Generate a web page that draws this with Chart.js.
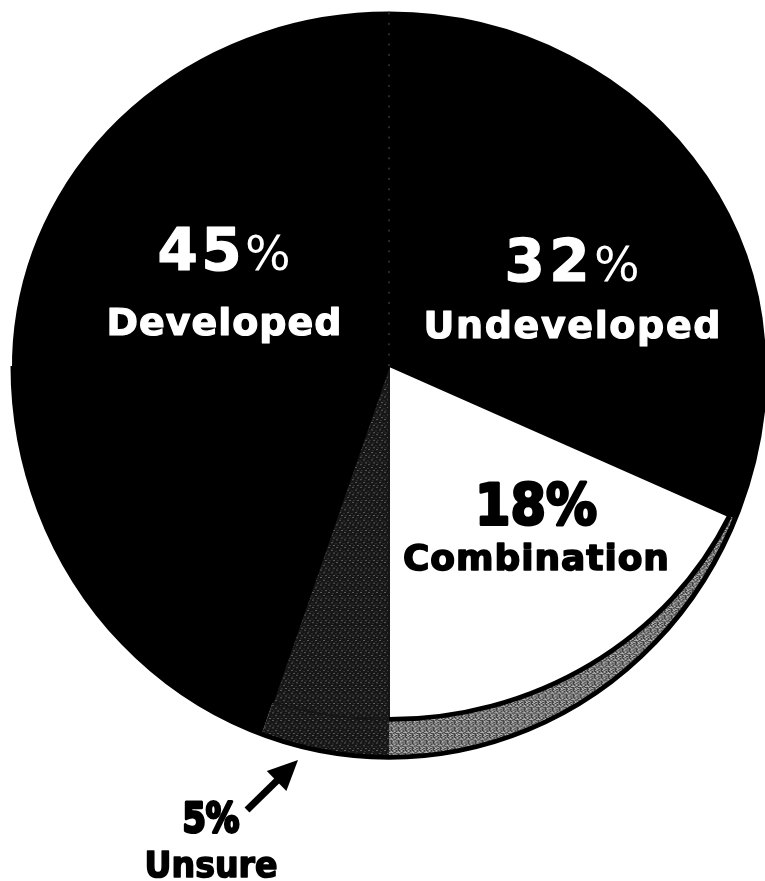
<!DOCTYPE html>
<html>
<head>
<meta charset="utf-8">
<script src="https://cdn.jsdelivr.net/npm/chart.js@4.4.0/dist/chart.umd.min.js"></script>
<style>
  html, body { margin: 0; padding: 0; background: #fff; }
  canvas { display: block; }
</style>
</head>
<body>
<canvas id="landPie" width="765" height="881"></canvas>
<script>
// Survey answers, clockwise from 12 o'clock
const categories = ["Undeveloped", "Combination", "Unsure", "Developed"];
const percents = [32, 18, 5, 45];

// Pie placement on the page (the chart is drawn as a tilted 3D disc)
const PIE_X = 389;
const PIE_Y = 366;
const PIE_RADIUS = 376;
const SQUASH = 0.94; // vertical squash of the disc
const DEPTH = 38; // thickness of the disc at the front, in screen pixels

// Small fixed stipple patterns, like the halftone of the original print
function makePattern(map, colors) {
  const c = document.createElement("canvas");
  c.width = map[0].length;
  c.height = map.length;
  const g = c.getContext("2d");
  map.forEach((row, y) => {
    [...row].forEach((ch, x) => {
      g.fillStyle = colors[ch];
      g.fillRect(x, y, 1, 1);
    });
  });
  return g.createPattern(c, "repeat");
}

const bandPattern = makePattern(
  ["#.w.#..", ".w#..w#", "#..w#..", ".#w..#w", "w..#.w.", "..#w#.#", "#w..w.."],
  { "#": "#111111", w: "#e8e8e8", ".": "#7a7a7a" }
);
const unsurePattern = makePattern(
  ["........", "..w.....", "......:.", "........", ".....w..", ".:......", "........", "...:...w"],
  { ".": "#161616", w: "#a8a8a8", ":": "#505050" }
);

const topColors = ["#000000", "#ffffff", unsurePattern, "#000000"];
const edgeColors = ["#000000", "#000000", "#161616", "#000000"];
const sideColors = ["#000000", bandPattern, unsurePattern, "#000000"];

// Tilt the disc and draw its side wall before the slices go on top
const tiltPlugin = {
  id: "tilt",
  beforeDatasetsDraw(chart) {
    const ctx = chart.ctx;
    const arcs = chart.getDatasetMeta(0).data;
    const cx = arcs[0].x;
    const cy = arcs[0].y;
    ctx.save();
    ctx.translate(PIE_X, PIE_Y);
    ctx.scale(1, SQUASH);
    ctx.translate(-cx, -cy);

    // the wall is a deeper ellipse under the front half only,
    // so it thins out towards the sides
    const r = arcs[0].outerRadius;
    const ry = r + DEPTH / SQUASH;
    const param = (a) => Math.atan2(r * Math.sin(a), ry * Math.cos(a));
    arcs.forEach((arc, i) => {
      const a0 = Math.max(arc.startAngle, 0);
      const a1 = Math.min(arc.endAngle, Math.PI);
      if (a1 <= a0) return;
      ctx.beginPath();
      ctx.moveTo(cx, cy);
      ctx.ellipse(cx, cy, r, ry, 0, param(a0), param(a1));
      ctx.closePath();
      ctx.fillStyle = sideColors[i];
      ctx.fill();
    });
    // bottom rim of the wall
    ctx.beginPath();
    ctx.ellipse(cx, cy, r, ry, 0, 0, Math.PI);
    ctx.lineWidth = 5;
    ctx.strokeStyle = "#000";
    ctx.stroke();
  },
  afterDatasetsDraw(chart) {
    const ctx = chart.ctx;
    const arcs = chart.getDatasetMeta(0).data;
    const cx = arcs[0].x;
    const cy = arcs[0].y;
    // dark rim where the white slice meets its wall
    const comb = arcs[1];
    ctx.beginPath();
    ctx.arc(cx, cy, comb.outerRadius, comb.startAngle, comb.endAngle);
    ctx.lineWidth = 5;
    ctx.strokeStyle = "#000";
    ctx.stroke();
    // faint seam between the two black slices
    ctx.beginPath();
    ctx.moveTo(cx, cy);
    ctx.lineTo(cx, cy - comb.outerRadius);
    ctx.setLineDash([2, 9]);
    ctx.lineWidth = 1;
    ctx.strokeStyle = "#5a5a5a";
    ctx.stroke();
    ctx.setLineDash([]);
    ctx.restore();
  },
};

// Fit a line of text to the given width: spread the letters if it is short,
// squeeze it sideways if it is too long. A stroke makes the face heavier.
function drawFitted(ctx, parts, cx, baseline, targetW, weightStroke) {
  let natural = 0;
  let chars = 0;
  parts.forEach((p) => {
    ctx.font = p.font;
    natural += ctx.measureText(p.text).width;
    chars += p.text.length;
  });
  let gap = chars > 1 ? (targetW - natural) / (chars - 1) : 0;
  let sx = 1;
  if (gap < 0) {
    sx = targetW / natural;
    gap = 0;
  }
  ctx.save();
  ctx.translate(cx - targetW / 2, baseline);
  ctx.scale(sx, 1);
  let x = 0;
  parts.forEach((p) => {
    ctx.font = p.font;
    for (const ch of p.text) {
      if (weightStroke && p.heavy !== false) {
        ctx.lineWidth = weightStroke;
        ctx.lineJoin = "round";
        ctx.strokeText(ch, x, 0);
      }
      ctx.fillText(ch, x, 0);
      x += ctx.measureText(ch).width + gap / sx;
    }
  });
  ctx.restore();
}

const LABEL_FONT = '"DejaVu Sans", "Liberation Sans", Arial, sans-serif';

// where each slice's label sits (index into categories)
const labelLayout = [
  { i: 3, cx: 224, numY: 270, numW: 133, nameY: 335, nameW: 235, light: true },
  { i: 0, cx: 572, numY: 281, numW: 135, nameY: 338, nameW: 297, light: true },
  { i: 1, cx: 536, numY: 525, numW: 122, nameY: 570, nameW: 266, light: false },
  { i: 2, cx: 211, numY: 832, numW: 57, nameY: 877, nameW: 133, light: false },
];

const labelPlugin = {
  id: "sliceLabels",
  afterDraw(chart) {
    const ctx = chart.ctx;
    ctx.save();
    ctx.textAlign = "left";
    ctx.textBaseline = "alphabetic";
    labelLayout.forEach((l) => {
      const num = String(percents[l.i]);
      if (l.light) {
        ctx.fillStyle = "#ffffff";
        ctx.strokeStyle = "#ffffff";
        drawFitted(
          ctx,
          [
            { text: num, font: "bold 58px " + LABEL_FONT },
            { text: "%", font: "48px " + LABEL_FONT, heavy: false },
          ],
          l.cx, l.numY, l.numW, 1.2
        );
        drawFitted(ctx, [{ text: categories[l.i], font: "bold 38px " + LABEL_FONT }], l.cx, l.nameY, l.nameW, 1.2);
      } else {
        ctx.fillStyle = "#000000";
        ctx.strokeStyle = "#000000";
        const big = l.i === 1 ? 57 : 40;
        const small = l.i === 1 ? 36 : 35;
        drawFitted(ctx, [{ text: num + "%", font: "bold " + big + "px " + LABEL_FONT }], l.cx, l.numY, l.numW, 3);
        drawFitted(ctx, [{ text: categories[l.i], font: "bold " + small + "px " + LABEL_FONT }], l.cx, l.nameY, l.nameW, 1.6);
      }
    });

    // arrow from the 5% label up to the thin slice
    const tail = { x: 247, y: 810 };
    const tip = { x: 298, y: 760 };
    const len = Math.hypot(tip.x - tail.x, tip.y - tail.y);
    const ux = (tip.x - tail.x) / len;
    const uy = (tip.y - tail.y) / len;
    const bx = tip.x - ux * 30;
    const by = tip.y - uy * 30;
    ctx.strokeStyle = "#000";
    ctx.lineWidth = 7;
    ctx.beginPath();
    ctx.moveTo(tail.x, tail.y);
    ctx.lineTo(bx + ux * 4, by + uy * 4);
    ctx.stroke();
    ctx.fillStyle = "#000";
    ctx.beginPath();
    ctx.moveTo(tip.x, tip.y);
    ctx.lineTo(bx - uy * 14, by + ux * 14);
    ctx.lineTo(bx + uy * 14, by - ux * 14);
    ctx.closePath();
    ctx.fill();
    ctx.restore();
  },
};

new Chart(document.getElementById("landPie"), {
  type: "pie",
  data: {
    labels: categories,
    datasets: [
      {
        data: percents,
        backgroundColor: topColors,
        borderColor: edgeColors,
        borderWidth: 2,
      },
    ],
  },
  options: {
    responsive: false,
    animation: false,
    radius: PIE_RADIUS,
    rotation: 0,
    plugins: {
      legend: { display: false },
      tooltip: { enabled: false },
    },
  },
  plugins: [tiltPlugin, labelPlugin],
});
</script>
</body>
</html>
